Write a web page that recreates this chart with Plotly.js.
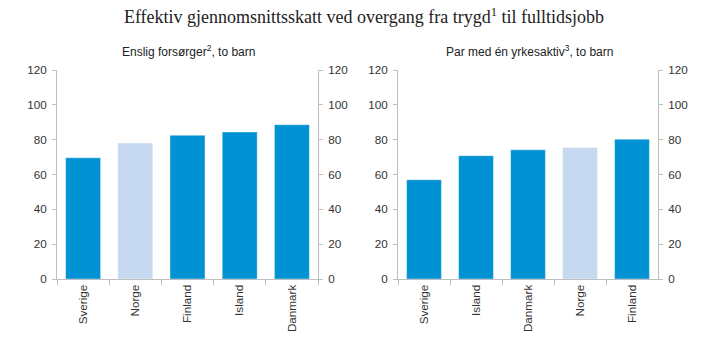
<!DOCTYPE html>
<html>
<head>
<meta charset="utf-8">
<script src="https://cdn.plot.ly/plotly-3.0.1.min.js"></script>
<style>html,body{margin:0;padding:0;background:#fff;}#chart{width:723px;height:353px;}</style>
</head>
<body>
<div id="chart"></div>
<script>
var titleText = 'Effektiv gjennomsnittsskatt ved overgang fra trygd<sup>1</sup> til fulltidsjobb';
var leftTitle = 'Enslig forsørger<sup>2</sup>, to barn';
var rightTitle = 'Par med én yrkesaktiv<sup>3</sup>, to barn';
var leftCountries = ['Sverige', 'Norge', 'Finland', 'Island', 'Danmark'];
var leftValues = [69.6, 78.1, 82.5, 84.4, 88.6];
var rightCountries = ['Sverige', 'Island', 'Danmark', 'Norge', 'Finland'];
var rightValues = [57.0, 70.8, 74.2, 75.5, 80.3];
var yTicks = [0, 20, 40, 60, 80, 100, 120];

var dark = '#0092D2', light = '#C6D9F0';
function colors(cats){ return cats.map(function(c){ return c === 'Norge' ? light : dark; }); }

var W = 723, H = 353;
var yDom = [1 - 279/H, 1 - 70/H];
var fnt = {family: 'Liberation Sans, Arial, sans-serif', size: 11.7, color: '#333'};

var traces = [
  {type:'bar', x:leftCountries, y:leftValues, xaxis:'x', yaxis:'y',
   marker:{color:colors(leftCountries), line:{color:'rgba(255,255,255,0.4)', width:1}}, width:0.67, hoverinfo:'skip'},
  {type:'scatter', mode:'markers', x:leftCountries, y:leftValues, xaxis:'x', yaxis:'y2',
   marker:{opacity:0}, hoverinfo:'skip', showlegend:false},
  {type:'bar', x:rightCountries, y:rightValues, xaxis:'x2', yaxis:'y3',
   marker:{color:colors(rightCountries), line:{color:'rgba(255,255,255,0.4)', width:1}}, width:0.67, hoverinfo:'skip'},
  {type:'scatter', mode:'markers', x:rightCountries, y:rightValues, xaxis:'x2', yaxis:'y4',
   marker:{opacity:0}, hoverinfo:'skip', showlegend:false}
];

function yax(anchor, side, overlay){
  var a = {domain:yDom, range:[0,120], tickvals:yTicks, ticktext:yTicks.map(String), showgrid:false, zeroline:false,
    showline:true, linecolor:'#BFBFBF', linewidth:1, ticks:'outside', ticklen:4, tickcolor:'#BFBFBF',
    tickfont:fnt, anchor:anchor, side:side, fixedrange:true, ticklabelstandoff:3};
  if (overlay) a.overlaying = overlay;
  return a;
}
function xax(dom, anchor){
  return {domain:dom, anchor:anchor, showgrid:false, zeroline:false, showline:true, linecolor:'#BFBFBF', linewidth:1,
    ticks:'outside', ticklen:5, tickcolor:'#BFBFBF', tickson:'boundaries', tickangle:-90, tickfont:fnt, fixedrange:true};
}

var subFont = {family:'Liberation Sans, Arial, sans-serif', size:12, color:'#222'};
var layout = {
  width:W, height:H, margin:{l:0, r:0, t:0, b:0}, showlegend:false,
  paper_bgcolor:'#fff', plot_bgcolor:'#fff', bargap:0.33,
  title:{text:titleText, x:364/W, xanchor:'center', y:1-17/H, yanchor:'middle',
    font:{family:'Liberation Serif, Times New Roman, serif', size:18, color:'#222'}},
  xaxis: xax([57/W, 318/W], 'y'),
  yaxis: yax('x', 'left'),
  yaxis2: yax('x', 'right', 'y'),
  xaxis2: xax([398/W, 658/W], 'y3'),
  yaxis3: yax('x2', 'left'),
  yaxis4: yax('x2', 'right', 'y3'),
  annotations: [
    {text:leftTitle, xref:'paper', yref:'paper', x:188/W, y:1-51/H, xanchor:'center', yanchor:'middle', showarrow:false, font:subFont},
    {text:rightTitle, xref:'paper', yref:'paper', x:529/W, y:1-51/H, xanchor:'center', yanchor:'middle', showarrow:false, font:subFont}
  ]
};

Plotly.newPlot('chart', traces, layout, {displayModeBar:false, staticPlot:true});
</script>
</body>
</html>
